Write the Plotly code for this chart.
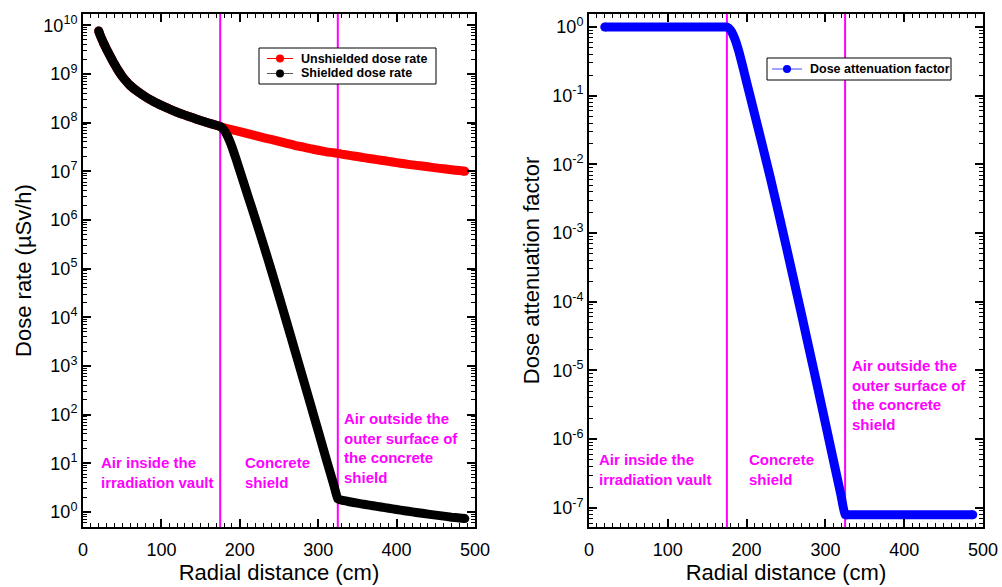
import plotly.graph_objects as go

# ---------------- data ----------------
radial_cm = [20, 22, 24, 26, 28, 30, 33, 36, 40, 45, 50, 55, 60, 70, 80, 90, 100, 110, 120, 130, 140,
             150, 160, 170, 175,
             180, 185, 190, 195, 200, 210, 220, 230, 240, 250, 260, 270, 280, 290, 300, 310, 320, 325,
             330, 340, 350, 360, 370, 380, 390, 400, 410, 420, 430, 440, 450, 460, 470, 480, 487]

unshielded_dose = [7.6e9, 6.2e9, 5.2e9, 4.4e9, 3.75e9, 3.2e9, 2.6e9, 2.1e9, 1.6e9, 1.17e9, 8.9e8, 7.1e8,
                   5.8e8, 4.3e8, 3.35e8, 2.7e8, 2.25e8, 1.9e8, 1.63e8, 1.42e8, 1.25e8,
                   1.1e8, 9.8e7, 8.8e7, 8.3e7,
                   7.8e7, 7.4e7, 7.1e7, 6.8e7, 6.5e7, 5.9e7, 5.4e7, 4.9e7, 4.5e7, 4.1e7, 3.75e7, 3.4e7,
                   3.15e7, 2.9e7, 2.7e7, 2.5e7, 2.4e7, 2.33e7,
                   2.25e7, 2.12e7, 2.0e7, 1.88e7, 1.78e7, 1.68e7, 1.59e7, 1.5e7, 1.42e7, 1.35e7, 1.29e7,
                   1.23e7, 1.17e7, 1.12e7, 1.07e7, 1.03e7, 1.0e7]

shielded_dose = [7.6e9, 6.2e9, 5.2e9, 4.4e9, 3.75e9, 3.2e9, 2.6e9, 2.1e9, 1.6e9, 1.17e9, 8.9e8, 7.1e8,
                 5.8e8, 4.3e8, 3.35e8, 2.7e8, 2.25e8, 1.9e8, 1.63e8, 1.42e8, 1.25e8,
                 1.1e8, 9.8e7, 8.8e7, 8.3e7,
                 6.95e7, 5.0e7, 3.17e7, 1.83e7, 1.03e7, 3.24e6, 1.03e6, 3.16e5, 9.4e4, 2.71e4, 7.66e3, 2.14e3,
                 600, 167, 45.8, 12.5, 3.55, 1.85,
                 1.74, 1.62, 1.51, 1.42, 1.34, 1.26, 1.19, 1.12, 1.06, 1.0, 0.95,
                 0.9, 0.86, 0.82, 0.78, 0.75, 0.73]

attenuation = [1.0, 1.0, 1.0, 1.0, 1.0, 1.0, 1.0, 1.0, 1.0, 1.0, 1.0, 1.0,
               1.0, 1.0, 1.0, 1.0, 1.0, 1.0, 1.0, 1.0, 1.0,
               1.0, 1.0, 1.0, 1.0,
               0.891, 0.676, 0.447, 0.269, 0.158, 0.055, 0.019, 6.46e-3, 2.09e-3, 6.6e-4, 2.04e-4, 6.3e-5,
               1.9e-5, 5.75e-6, 1.7e-6, 5.0e-7, 1.48e-7, 7.9e-8,
               7.9e-8, 7.9e-8, 7.9e-8, 7.9e-8, 7.9e-8, 7.9e-8, 7.9e-8, 7.9e-8, 7.9e-8, 7.9e-8, 7.9e-8,
               7.9e-8, 7.9e-8, 7.9e-8, 7.9e-8, 7.9e-8, 7.9e-8]

boundaries_cm = [175, 325]

dose_exponents = list(range(0, 11))
atten_exponents = list(range(-7, 1))
x_ticks = [0, 100, 200, 300, 400, 500]

region_labels = ["Air inside the<br>irradiation vault", "Concrete<br>shield",
                 "Air outside the<br>outer surface of<br>the concrete<br>shield"]

legend_left = ["Unshielded dose rate", "Shielded dose rate"]
legend_right = ["Dose attenuation factor"]

# ---------------- styling ----------------
FONT = "Arial, Liberation Sans, Helvetica, sans-serif"
MAG = "#FF00FF"
LW = 9

# plot-area pixel frame used for placing legend boxes
PX_L, PX_R, PX_T, PX_B = 83, 983, 14, 527


def px(xp):
    return (xp - PX_L) / (PX_R - PX_L)


def py(yp):
    return (PX_B - yp) / (PX_B - PX_T)


fig = go.Figure()


def add_curve(yvals, color, xa, ya):
    fig.add_trace(go.Scatter(x=radial_cm, y=yvals, mode="lines",
                             line=dict(color=color, width=LW, shape="spline", smoothing=0.4),
                             showlegend=False, xaxis=xa, yaxis=ya, hoverinfo="skip"))
    fig.add_trace(go.Scatter(x=[radial_cm[0], radial_cm[-1]], y=[yvals[0], yvals[-1]], mode="markers",
                             marker=dict(color=color, size=LW, line=dict(width=0)),
                             showlegend=False, xaxis=xa, yaxis=ya, hoverinfo="skip"))


add_curve(unshielded_dose, "#FF0000", "x", "y")
add_curve(shielded_dose, "#000000", "x", "y")
add_curve(attenuation, "#0000FF", "x2", "y2")


def minor_vals(exps):
    vals = []
    for e in exps:
        for m in range(2, 10):
            vals.append(m * 10.0 ** (e - 1))
    for m in range(2, 10):
        vals.append(m * 10.0 ** exps[-1])
    return vals


xcommon = dict(range=[0, 500], showline=True, linecolor="black", linewidth=2, mirror="allticks",
               ticks="inside", ticklen=8, tickwidth=1.5, tickcolor="black", automargin=False,
               tickmode="array", tickvals=x_ticks, ticktext=[str(v) for v in x_ticks],
               tickfont=dict(size=18, color="black", family=FONT), ticklabelstandoff=5,
               minor=dict(ticks="inside", ticklen=4, tickwidth=1, tickcolor="black", dtick=10, tick0=0),
               showgrid=False, zeroline=False,
               title=dict(text="Radial distance (cm)", font=dict(size=22, color="black", family=FONT),
                          standoff=4))

ycommon = dict(type="log", showline=True, linecolor="black", linewidth=2, mirror="allticks",
               ticks="inside", ticklen=8, tickwidth=1.5, tickcolor="black", tickmode="array",
               tickfont=dict(size=18, color="black", family=FONT), automargin=False,
               showgrid=False, zeroline=False)

fig.update_layout(
    width=1002, height=587,
    margin=dict(l=PX_L, r=1002 - PX_R, t=PX_T, b=587 - PX_B, autoexpand=False),
    paper_bgcolor="white", plot_bgcolor="white",
    font=dict(family=FONT, color="black"),
    showlegend=False,
    xaxis=dict(domain=[0, px(475)], anchor="y", **xcommon),
    xaxis2=dict(domain=[px(589), 1.0], anchor="y2", **xcommon),
    yaxis=dict(range=[-0.31, 10.23], anchor="x",
               tickvals=[10.0 ** e for e in dose_exponents],
               ticktext=["10<sup>%d</sup>" % e for e in dose_exponents],
               minor=dict(ticks="inside", ticklen=4, tickwidth=1, tickcolor="black",
                          tickmode="array", tickvals=minor_vals(dose_exponents)),
               title=dict(text="Dose rate (µSv/h)", font=dict(size=22, color="black", family=FONT),
                          standoff=6),
               **ycommon),
    yaxis2=dict(range=[-7.28, 0.19], anchor="x2",
                tickvals=[10.0 ** e for e in atten_exponents],
                ticktext=["10<sup>%d</sup>" % e for e in atten_exponents],
                minor=dict(ticks="inside", ticklen=4, tickwidth=1, tickcolor="black",
                           tickmode="array", tickvals=minor_vals(atten_exponents)),
                title=dict(text="Dose attenuation factor", font=dict(size=22, color="black", family=FONT),
                           standoff=6),
                **ycommon),
)

# vertical region boundaries
for xr, yr in [("x", "y"), ("x2", "y2")]:
    for b in boundaries_cm:
        fig.add_shape(type="line", xref=xr, yref=yr + " domain",
                      x0=b, x1=b, y0=0, y1=1, line=dict(color=MAG, width=2), layer="below")

ann_font = dict(size=15, color=MAG, family=FONT, weight="bold")
left_pos = [(20.5, 0.106), (203.5, 0.106), (330, 0.154)]
right_pos = [(10.5, 0.112), (201, 0.112), (331, 0.257)]
for (xv, yv), txt in zip(left_pos, region_labels):
    fig.add_annotation(x=xv, y=yv, xref="x", yref="paper", text=txt, showarrow=False,
                       xanchor="left", yanchor="middle", align="left", font=ann_font)
for (xv, yv), txt in zip(right_pos, region_labels):
    fig.add_annotation(x=xv, y=yv, xref="x2", yref="paper", text=txt, showarrow=False,
                       xanchor="left", yanchor="middle", align="left", font=ann_font)

# ---------------- legends (boxes with line+marker symbols) ----------------
leg_font = dict(size=12.5, color="black", family=FONT, weight="bold")


def legend_box(x0, y0, x1, y1):
    fig.add_shape(type="rect", xref="paper", yref="paper", x0=px(x0), x1=px(x1), y0=py(y0), y1=py(y1),
                  line=dict(color="black", width=1), fillcolor="white", layer="above")


def legend_entry(xs0, xs1, yrow, line_color, marker_color, label):
    fig.add_shape(type="line", xref="paper", yref="paper", x0=px(xs0), x1=px(xs1), y0=py(yrow), y1=py(yrow),
                  line=dict(color=line_color, width=1), layer="above")
    xm = (xs0 + xs1) / 2
    r = 4
    fig.add_shape(type="circle", xref="paper", yref="paper", x0=px(xm - r), x1=px(xm + r),
                  y0=py(yrow + r), y1=py(yrow - r), line=dict(color=marker_color, width=0),
                  fillcolor=marker_color, layer="above")
    fig.add_annotation(x=px(xs1 + 8), y=py(yrow), xref="paper", yref="paper", text=label, showarrow=False,
                       xanchor="left", yanchor="middle", font=leg_font, xshift=-2)


legend_box(259, 48, 436, 84)
legend_entry(267, 293, 58.5, "#FF0000", "#FF0000", legend_left[0])
legend_entry(267, 293, 73.5, "#555555", "#000000", legend_left[1])

legend_box(767, 58, 951, 80)
legend_entry(772, 802, 69, "#4444FF", "#0000FF", legend_right[0])

fig.write_html("out.html")
